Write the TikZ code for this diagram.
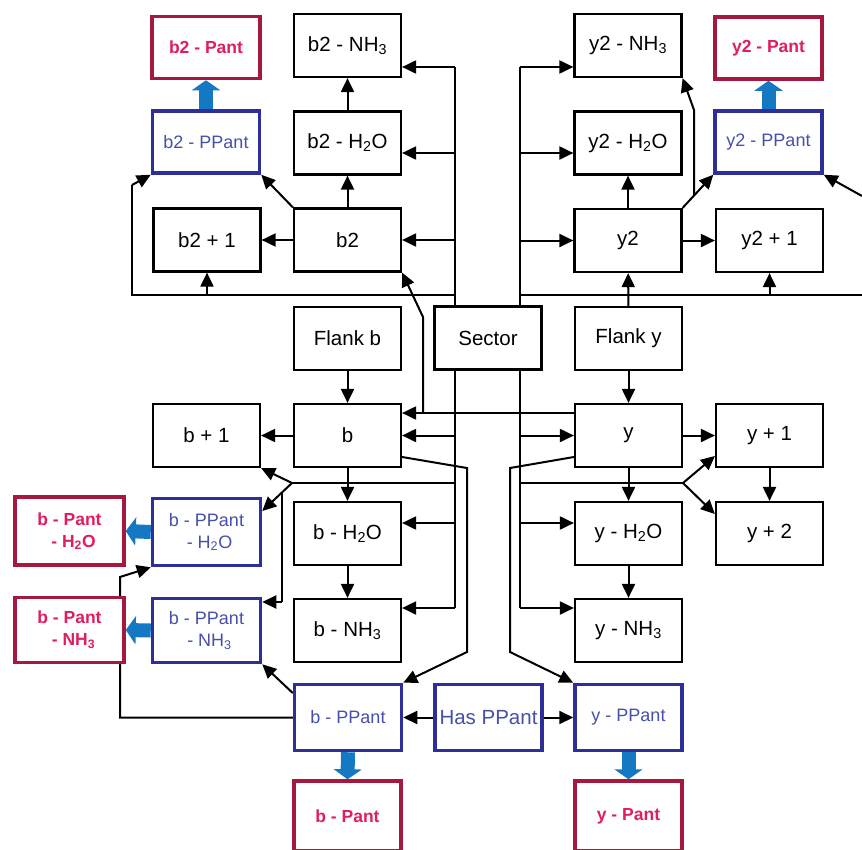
\documentclass[tikz,border=0pt]{standalone}
\usepackage{fontspec}
\setmainfont{Liberation Sans}
\usetikzlibrary{arrows.meta}
\definecolor{bluebd}{HTML}{2E2E9A}
\definecolor{bluetx}{HTML}{4650AA}
\definecolor{redbd}{HTML}{A5193F}
\definecolor{redtx}{HTML}{E01E5F}
\definecolor{fatblue}{HTML}{1478C3}
\pgfdeclarelayer{bg}
\pgfsetlayers{bg,main}
\begin{document}
\begin{tikzpicture}[x=1pt,y=-1pt,
 box/.style={draw=black,line width=2.2pt,fill=white,minimum width=107pt,minimum height=63pt,inner sep=0pt,font=\fontsize{20.5}{24}\selectfont},
 bbox/.style={draw=bluebd,line width=3.5pt,fill=white,text=bluetx,minimum width=107pt,minimum height=62pt,inner sep=0pt,align=center,font=\fontsize{18}{22}\selectfont},
 rbox/.style={draw=redbd,line width=3.5pt,fill=white,text=redtx,minimum width=107pt,minimum height=62pt,inner sep=0pt,align=center,font=\bfseries\fontsize{17.5}{22}\selectfont},
 ln/.style={line width=2pt},
 arr/.style={ln,-{Triangle[length=14pt,width=13pt]}},
 fat/.style={draw=fatblue,line width=14pt,-{Triangle[length=10pt,width=28pt]}},
]
\useasboundingbox (0,0) rectangle (862,849);
\clip (0,0) rectangle (862,849);
% ---------- nodes ----------
\node[rbox,minimum width=108pt] (b2Pant) at (206,47.5) {b2 - Pant};
\node[bbox] (b2PPant) at (206,142) {b2 - PPant};
\node[box] (b2p1) at (207,240) {b2 + 1};
\node[box] (b2NH3) at (347.5,45.5) {b2 - NH\textsubscript{3}};
\node[box] (b2H2O) at (347.5,143) {b2 - H\textsubscript{2}O};
\node[box] (b2) at (347.5,240) {b2};
\node[box] (y2NH3) at (628,45.5) {y2 - NH\textsubscript{3}};
\node[box] (y2H2O) at (628,143) {y2 - H\textsubscript{2}O};
\node[box] (y2) at (628,240.5) {y2};
\node[rbox] (y2Pant) at (768.5,48) {y2 - Pant};
\node[bbox] (y2PPant) at (768.5,142) {y2 - PPant};
\node[box] (y2p1) at (769.5,240.5) {y2 + 1};
\node[box] (flankb) at (347.5,338.5) {Flank b};
\node[box] (sector) at (488,338) {Sector};
\node[box] (flanky) at (628.5,338.5) {Flank y};
\node[box] (bp1) at (206.5,435.5) {b + 1};
\node[box] (b) at (347.5,435.5) {b};
\node[box] (y) at (628.5,435.5) {y};
\node[box] (yp1) at (769.5,435.5) {y + 1};
\node[rbox,minimum width=109pt,minimum height=68pt] (bPantH2O) at (69.5,531) {b - Pant\\\hspace*{8pt}- H\textsubscript{2}O};
\node[bbox,minimum width=108pt,minimum height=67pt] (bPPantH2O) at (206.5,532) {b - PPant\\\hspace*{6pt}- H\textsubscript{2}O};
\node[box] (bH2O) at (347.5,533.5) {b - H\textsubscript{2}O};
\node[box] (yH2O) at (628.5,533.5) {y - H\textsubscript{2}O};
\node[box] (yp2) at (769.5,533.5) {y + 2};
\node[rbox,minimum width=109pt,minimum height=65pt] (bPantNH3) at (69.5,630) {b - Pant\\\hspace*{8pt}- NH\textsubscript{3}};
\node[bbox,minimum width=108pt,minimum height=64pt] (bPPantNH3) at (206.5,630.5) {b - PPant\\\hspace*{6pt}- NH\textsubscript{3}};
\node[box] (bNH3) at (347.5,630.5) {b - NH\textsubscript{3}};
\node[box] (yNH3) at (628.5,630.5) {y - NH\textsubscript{3}};
\node[bbox,minimum height=66pt] (bPPant) at (348,717.5) {b - PPant};
\node[bbox,minimum height=66pt,font=\fontsize{20.5}{24}\selectfont] (has) at (488.5,717.5) {Has PPant};
\node[bbox,minimum height=66pt] (yPPant) at (628.5,717.5) {y - PPant};
\node[rbox,minimum height=70pt] (bPant) at (347.5,816) {b - Pant};
\node[rbox,minimum height=70pt] (yPant) at (628.5,816) {y - Pant};
% ---------- helper coordinates ----------
\coordinate (xL) at (455,0);
\coordinate (xR) at (520,0);
\coordinate (busL) at (132,295);
\coordinate (busLtop) at (132,185);
\coordinate (busRend) at (862,295);
\coordinate (rin) at (862,196);
\coordinate (jb) at (292,483);
\coordinate (jy) at (683,483);
\coordinate (kb) at (282,492);
\coordinate (kb2) at (282,602);
\coordinate (up1) at (423,413);
\coordinate (up2) at (423,317);
\coordinate (yb1) at (694,195.5);
\coordinate (yb2) at (694,110);
\coordinate (bd1) at (467,468);
\coordinate (bd2) at (467,652);
\coordinate (yd1) at (510,468);
\coordinate (yd2) at (510,652);
\coordinate (lp1) at (120,717.5);
\coordinate (lp2) at (120,577);
% ---------- connectors ----------
\begin{pgfonlayer}{bg}
% top left trunk
\draw[ln] (sector.north -| xL) -- (xL |- 0,67);
\draw[arr] (xL |- 0,67) -- (b2NH3.east |- 0,67);
\draw[arr] (xL |- 0,153) -- (b2H2O.east |- 0,153);
\draw[arr] (xL |- b2.east) -- (b2.east);
\draw[ln] (xL |- busL) -- (busL) -- (busLtop);
\draw[arr] (busLtop) -- (b2PPant.south west);
\draw[arr] (b2p1.south |- busL) -- (b2p1.south);
% top right trunk
\draw[ln] (sector.north -| xR) -- (xR |- 0,67);
\draw[arr] (xR |- 0,67) -- (y2NH3.west |- 0,67);
\draw[arr] (xR |- 0,153) -- (y2H2O.west |- 0,153);
\draw[arr] (xR |- y2.west) -- (y2.west);
\draw[ln] (xR |- busRend) -- (busRend);
\draw[arr] (y2p1.south |- busRend) -- (y2p1.south);
\draw[arr] (rin) -- (y2PPant.south east);
\draw[arr] (flanky) -- (y2);
% top trees
\draw[arr] (b2) -- (b2H2O);
\draw[arr] (b2H2O) -- (b2NH3);
\draw[arr] (b2) -- (b2p1);
\draw[arr] (b2.north west) -- (b2PPant.south east);
\draw[arr] (y2) -- (y2H2O);
\draw[arr] (y2) -- (y2p1);
\draw[arr] (y2.north east) -- (y2PPant.south west);
\draw[arr] (yb1) -- (yb2) -- (y2NH3.south east);
\draw[fat] (b2PPant.north) -- (b2Pant.south);
\draw[fat] (y2PPant.north) -- (y2Pant.south);
% middle
\draw[arr] (flankb) -- (b);
\draw[arr] (flanky) -- (y);
\draw[arr] (b) -- (bp1);
\draw[arr] (y) -- (yp1);
\draw[arr] (b) -- (bH2O);
\draw[arr] (bH2O) -- (bNH3);
\draw[arr] (y) -- (yH2O);
\draw[arr] (yH2O) -- (yNH3);
\draw[arr] (yp1) -- (yp2);
% bottom left trunk
\draw[ln] (sector.south -| xL) -- (xL |- 0,608);
\draw[arr] (xL |- b.east) -- (b.east);
\draw[arr] (xL |- 0,523) -- (bH2O.east |- 0,523);
\draw[arr] (xL |- 0,608) -- (bNH3.east |- 0,608);
\draw[ln] (xL |- jb) -- (jb);
\draw[arr] (jb) -- (bp1.south east);
\draw[arr] (jb) -- (bPPantH2O.east |- 0,511);
\draw[ln] (kb) -- (kb2);
\draw[arr] (kb2) -- (bPPantNH3.east |- kb2);
% bottom right trunk
\draw[ln] (sector.south -| xR) -- (xR |- 0,608);
\draw[arr] (xR |- y.west) -- (y.west);
\draw[arr] (xR |- 0,523) -- (yH2O.west |- 0,523);
\draw[arr] (xR |- 0,608) -- (yNH3.west |- 0,608);
\draw[ln] (xR |- jy) -- (jy);
\draw[arr] (jy) -- (yp1.west |- 0,456);
\draw[arr] (jy) -- (yp2.west |- 0,514);
% y -> b and b2
\draw[arr] (y.west |- up1) -- (b.east |- up1);
\draw[arr] (up1) -- (up2) -- (b2.south east);
% b -> b-PPant, y -> y-PPant
\draw[arr] (b.east |- 0,457) -- (bd1) -- (bd2) -- (bPPant.north east);
\draw[arr] (y.west |- 0,457) -- (yd1) -- (yd2) -- (yPPant.north west);
% bottom row
\draw[arr] (has) -- (bPPant);
\draw[arr] (has) -- (yPPant);
\draw[arr] (bPPant.west |- 0,693) -- (bPPantNH3.south east);
\draw[arr] (bPPant.west) -- (lp1) -- (lp2) -- (bPPantH2O.south west);
\draw[fat] (bPPantH2O.west) -- (bPantH2O.east);
\draw[fat] (bPPantNH3.west) -- (bPantNH3.east);
\draw[fat] (bPPant.south) -- (bPant.north);
\draw[fat] (yPPant.south) -- (yPant.north);
\end{pgfonlayer}
\end{tikzpicture}
\end{document}
